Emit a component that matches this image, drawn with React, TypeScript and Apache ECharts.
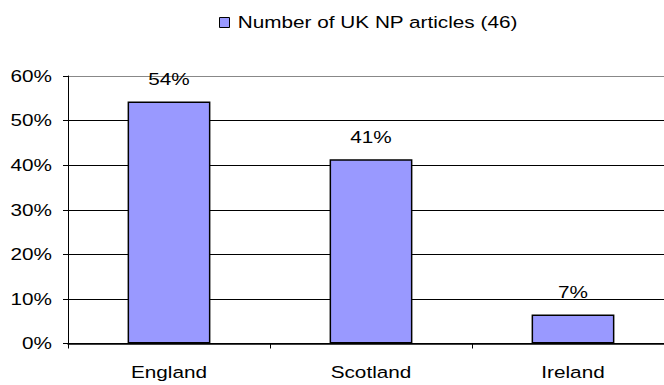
import React, { useEffect, useRef } from "react";
import * as echarts from "echarts";

const categories = ["England", "Scotland", "Ireland"];
const seriesName = "Number of UK NP articles (46)";
const values = [54.3, 41.3, 6.5];
const yTicks = { min: 0, max: 60, interval: 10 };

const TEXT_STRETCH = 1.22;

export default function App() {
  const ref = useRef<HTMLDivElement>(null);
  useEffect(() => {
    const el = ref.current!;
    const chart = echarts.init(el, null, { renderer: "svg" });
    const font = "Liberation Sans, Arial, sans-serif";
    const stretchTexts = () => {
      el.querySelectorAll("svg text").forEach((t) => {
        if (t.getAttribute("data-stretched")) return;
        const tr = t.getAttribute("transform") || "";
        t.setAttribute("transform", `${tr} scale(${TEXT_STRETCH} 1)`.trim());
        t.setAttribute("data-stretched", "1");
      });
    };
    chart.on("rendered", stretchTexts);
    chart.setOption({
      animation: false,
      textStyle: { fontFamily: font },
      legend: {
        data: [seriesName],
        left: 214,
        top: 9,
        itemWidth: 10,
        itemHeight: 10,
        icon: "rect",
        textStyle: { fontSize: 17, color: "#000", fontFamily: font },
        itemStyle: { borderColor: "#000", borderWidth: 1 },
      },
      grid: { left: 68, right: 0, top: 76, bottom: 41.5, containLabel: false },
      xAxis: {
        type: "category",
        data: categories,
        axisLine: { show: true, lineStyle: { color: "#000", width: 1.5 } },
        axisTick: { show: true, alignWithLabel: false, length: 5, lineStyle: { color: "#000" } },
        axisLabel: { fontSize: 17, color: "#000", margin: 20, fontFamily: font },
        splitLine: { show: false },
      },
      yAxis: {
        type: "value",
        min: yTicks.min,
        max: yTicks.max,
        interval: yTicks.interval,
        axisLine: { show: true, lineStyle: { color: "#000", width: 1 } },
        axisTick: { show: true, length: 5, lineStyle: { color: "#000" } },
        axisLabel: {
          fontSize: 17,
          color: "#000",
          margin: 16,
          fontFamily: font,
          formatter: (v: number) => `${v}%`,
        },
        splitLine: {
          show: true,
          lineStyle: { color: ["#000", "#000", "#000", "#000", "#000", "#000", "#888"], width: 1 },
        },
      },
      series: [
        {
          name: seriesName,
          type: "bar",
          data: values,
          barWidth: "41%",
          itemStyle: { color: "#9999FF", borderColor: "#000", borderWidth: 1.5 },
          label: {
            show: true,
            position: "top",
            distance: 14,
            fontSize: 17,
            color: "#000",
            fontFamily: font,
            formatter: (p: any) => `${Math.round(p.value)}%`,
          },
        },
      ],
    });
    stretchTexts();
    const timer = setTimeout(stretchTexts, 50);
    return () => {
      clearTimeout(timer);
      chart.dispose();
    };
  }, []);
  return (
    <div
      style={{ position: "fixed", left: 0, top: 0, width: 664, height: 385, overflow: "hidden", background: "#fff" }}
    >
      <div ref={ref} style={{ width: 674, height: 385 }} />
    </div>
  );
}
